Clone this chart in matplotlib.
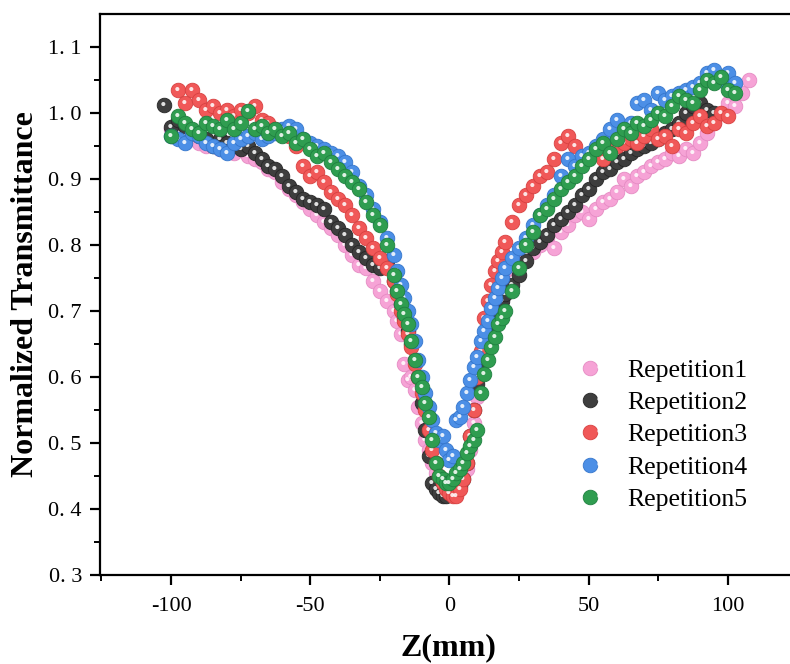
import numpy as np
import matplotlib
matplotlib.use("Agg")
import matplotlib.pyplot as plt
from matplotlib.markers import MarkerStyle
from matplotlib.transforms import Affine2D
from matplotlib.legend_handler import HandlerTuple

plt.rcParams['font.family'] = ['Liberation Serif', 'DejaVu Serif']
plt.rcParams['axes.unicode_minus'] = False

nan = np.nan

# Z positions (mm)
z = [-105, -102.5, -100, -97.5, -95, -92.5, -90, -87.5, -85, -82.5, -80, -77.5,
     -75, -72.5, -70, -67.5, -65, -62.5, -60, -57.5, -55, -52.5, -50, -47.5,
     -45, -42.5, -40, -37.5, -35, -32.5, -30, -27.5, -25, -22.5,
     -20, -18.75, -17.5, -16.25, -15, -13.75, -12.5, -11.25, -10, -8.75, -7.5,
     -6.25, -5, -3.75, -2.5, -1.25, 0, 1.25, 2.5, 3.75, 5, 6.25, 7.5, 8.75,
     10, 11.25, 12.5, 13.75, 15, 16.25, 17.5, 18.75, 20,
     22.5, 25, 27.5, 30, 32.5, 35, 37.5, 40, 42.5, 45, 47.5, 50, 52.5, 55,
     57.5, 60, 62.5, 65, 67.5, 70, 72.5, 75, 77.5, 80, 82.5, 85, 87.5, 90,
     92.5, 95, 97.5, 100, 102.5, 105, 107.5]

rep1 = [nan, nan, 0.975, 0.97, 0.965, 0.96, 0.955, 0.95, 0.955, 0.945, 0.945, 0.94,
        0.945, 0.935, 0.93, 0.925, 0.915, 0.91, 0.895, 0.885, 0.875, 0.865, 0.855, 0.845,
        0.835, 0.825, 0.815, 0.80, 0.785, 0.77, 0.765, 0.745, 0.73, 0.715,
        0.70, 0.685, 0.665, 0.62, 0.595, 0.60, 0.58, 0.555, 0.53, 0.505, 0.49,
        0.47, 0.455, 0.44, 0.435, 0.43, 0.43, 0.435, 0.44, 0.445, 0.45, 0.46, 0.49, 0.53,
        0.57, 0.61, 0.645, 0.675, 0.70, 0.72, 0.74, 0.75, 0.76,
        0.765, 0.775, 0.785, 0.79, 0.80, 0.81, 0.795, 0.82, 0.83, 0.845, 0.85, 0.84, 0.855, 0.865,
        0.87, 0.88, 0.90, 0.89, 0.905, 0.91, 0.92, 0.925, 0.93, 0.94, 0.935, 0.945, 0.94, 0.955,
        0.97, 0.985, 1.0, 1.015, 1.01, 1.03, 1.05]

rep2 = [nan, 1.012, 0.978, 0.99, 0.98, 0.97, 0.965, 0.96, 0.95, 0.96, 0.955, 0.95,
        0.945, 0.95, 0.94, 0.93, 0.92, 0.915, 0.905, 0.89, 0.88, 0.87, 0.865, 0.86,
        0.855, 0.835, 0.825, 0.815, 0.80, 0.79, 0.78, 0.77, 0.765, 0.775,
        0.745, 0.73, 0.71, 0.69, 0.67, 0.65, 0.625, 0.60, 0.56, 0.52, 0.48,
        0.44, 0.43, 0.425, 0.42, 0.42, 0.425, 0.43, 0.43, 0.435, 0.445, 0.47, 0.51, 0.55,
        0.59, 0.625, 0.655, 0.675, 0.69, 0.70, 0.71, 0.715, 0.725,
        0.74, 0.755, 0.775, 0.795, 0.805, 0.815, 0.83, 0.84, 0.85, 0.86, 0.875, 0.885, 0.90, 0.91,
        0.915, 0.925, 0.93, 0.94, 0.945, 0.95, 0.955, 0.96, 0.97, 0.975, 0.985, 1.0, 1.01, 1.015,
        1.005, 1.0, nan, nan, nan, nan, nan]

rep3 = [nan, nan, nan, 1.035, 1.015, 1.035, 1.02, 1.005, 1.01, 1.0, 1.005, 0.995,
        1.005, 1.0, 1.01, 0.99, 0.985, 0.975, 0.97, 0.965, 0.95, 0.92, 0.905, 0.91,
        0.895, 0.88, 0.87, 0.86, 0.845, 0.825, 0.81, 0.795, 0.78, 0.765,
        0.745, 0.725, 0.70, 0.685, 0.665, 0.645, 0.62, 0.60, 0.575, 0.55, 0.52,
        0.49, 0.47, 0.45, 0.44, 0.43, 0.425, 0.42, 0.42, 0.43, 0.445, 0.47, 0.51, 0.55,
        0.60, 0.64, 0.69, 0.715, 0.74, 0.76, 0.775, 0.79, 0.805,
        0.835, 0.86, 0.875, 0.89, 0.905, 0.91, 0.93, 0.955, 0.965, 0.95, 0.93, 0.935, 0.94, 0.93,
        0.945, 0.95, 0.955, 0.96, 0.955, 0.965, 0.975, 0.96, 0.965, 0.95, 0.975, 0.97, 0.985, 0.995,
        0.98, 0.985, 1.0, 0.995, nan, nan, nan]

rep4 = [nan, nan, 0.965, 0.96, 0.955, 0.97, 0.965, 0.955, 0.95, 0.945, 0.94, 0.955,
        0.96, 0.965, 0.97, 0.96, 0.965, 0.97, 0.975, 0.98, 0.975, 0.96, 0.955, 0.95,
        0.945, 0.94, 0.935, 0.925, 0.91, 0.89, 0.875, 0.855, 0.835, 0.81,
        0.785, 0.76, 0.74, 0.72, 0.70, 0.68, 0.655, 0.625, 0.60, 0.575, 0.555,
        0.535, 0.515, 0.505, 0.51, 0.49, 0.475, 0.48, 0.535, 0.54, 0.555, 0.575, 0.595, 0.615,
        0.63, 0.655, 0.67, 0.685, 0.705, 0.72, 0.735, 0.75, 0.765,
        0.78, 0.795, 0.81, 0.83, 0.845, 0.86, 0.875, 0.905, 0.93, 0.92, 0.935, 0.94, 0.95, 0.96,
        0.975, 0.99, 0.975, 0.985, 1.015, 1.02, 1.005, 1.03, 1.02, 1.025, 1.03, 1.035, 1.04, 1.045,
        1.06, 1.065, 1.05, 1.06, 1.045, nan, nan]

rep5 = [nan, nan, 0.965, 0.995, 0.985, 0.975, 0.97, 0.985, 0.98, 0.975, 0.99, 0.975,
        0.985, 1.003, 0.975, 0.98, 0.97, 0.975, 0.965, 0.97, 0.955, 0.96, 0.945, 0.935,
        0.94, 0.925, 0.915, 0.905, 0.895, 0.885, 0.865, 0.845, 0.83, 0.80,
        0.755, 0.73, 0.71, 0.695, 0.68, 0.655, 0.625, 0.60, 0.585, 0.56, 0.54,
        0.505, 0.47, 0.45, 0.445, 0.44, 0.44, 0.445, 0.455, 0.46, 0.47, 0.485, 0.495, 0.505,
        0.52, 0.575, 0.605, 0.625, 0.645, 0.66, 0.68, 0.69, 0.70,
        0.73, 0.765, 0.80, 0.82, 0.845, 0.855, 0.87, 0.885, 0.895, 0.905, 0.92, 0.93, 0.945, 0.955,
        0.94, 0.96, 0.975, 0.97, 0.985, 0.98, 0.99, 1.0, 0.995, 1.01, 1.025, 1.02, 1.015, 1.035,
        1.05, 1.045, 1.055, 1.035, 1.03, nan, nan]

labels = ['Repetition1', 'Repetition2', 'Repetition3', 'Repetition4', 'Repetition5']
colors = ['#F6A3D6', '#3E3E3E', '#F05858', '#4C8FE6', '#2F9D50']
edges = ['#E58BC3', '#262626', '#D84040', '#3576CC', '#1F8040']

fig = plt.figure(figsize=(7.9, 6.64), dpi=100)
ax = fig.add_axes([0.1266, 0.134, 0.883, 0.845])

hl = MarkerStyle('o', transform=Affine2D().scale(0.28).translate(-0.08, 0.1))
handles = []
for ys, c, ec in zip([rep1, rep2, rep3, rep4, rep5], colors, edges):
    b, = ax.plot(z, ys, 'o', ms=10.5, mfc=c, mec=ec, mew=0.6, ls='none')
    h, = ax.plot(z, ys, ls='none', marker=hl, ms=10.5, mfc='white', mec='none', alpha=0.85)
    handles.append((b, h))

ax.set_xlim(-125.5, 125)
ax.set_ylim(0.3, 1.15)
ax.set_xticks([-100, -50, 0, 50, 100])
ax.set_xticks([-125, -75, -25, 25, 75], minor=True)
yt = [0.3, 0.4, 0.5, 0.6, 0.7, 0.8, 0.9, 1.0, 1.1]
ax.set_yticks(yt)
ax.set_yticklabels([('%.1f' % v).replace('.', '. ') for v in yt])
ax.set_yticks(np.arange(0.35, 1.15, 0.1), minor=True)

ax.tick_params(which='major', direction='out', length=7, width=1.6, labelsize=16)
ax.tick_params(axis='x', which='major', pad=9)
ax.tick_params(axis='y', which='major', pad=6)
ax.tick_params(which='minor', direction='out', length=4, width=1.4)
ax.spines['right'].set_visible(False)
for s in ['left', 'bottom', 'top']:
    ax.spines[s].set_linewidth(1.6)

ax.set_xlabel('Z(mm)', fontsize=23, fontweight='bold', labelpad=12)
ax.set_ylabel('Normalized Transmittance', fontsize=23, fontweight='bold', labelpad=6)

ax.legend(handles, labels, handler_map={tuple: HandlerTuple(ndivide=None)},
          loc='upper left', bbox_to_anchor=(0.695, 0.385), frameon=False,
          fontsize=18.5, handlelength=0.8, handletextpad=0.85, labelspacing=0.36,
          borderaxespad=0, borderpad=0)

fig.savefig('out.png', dpi=100)
